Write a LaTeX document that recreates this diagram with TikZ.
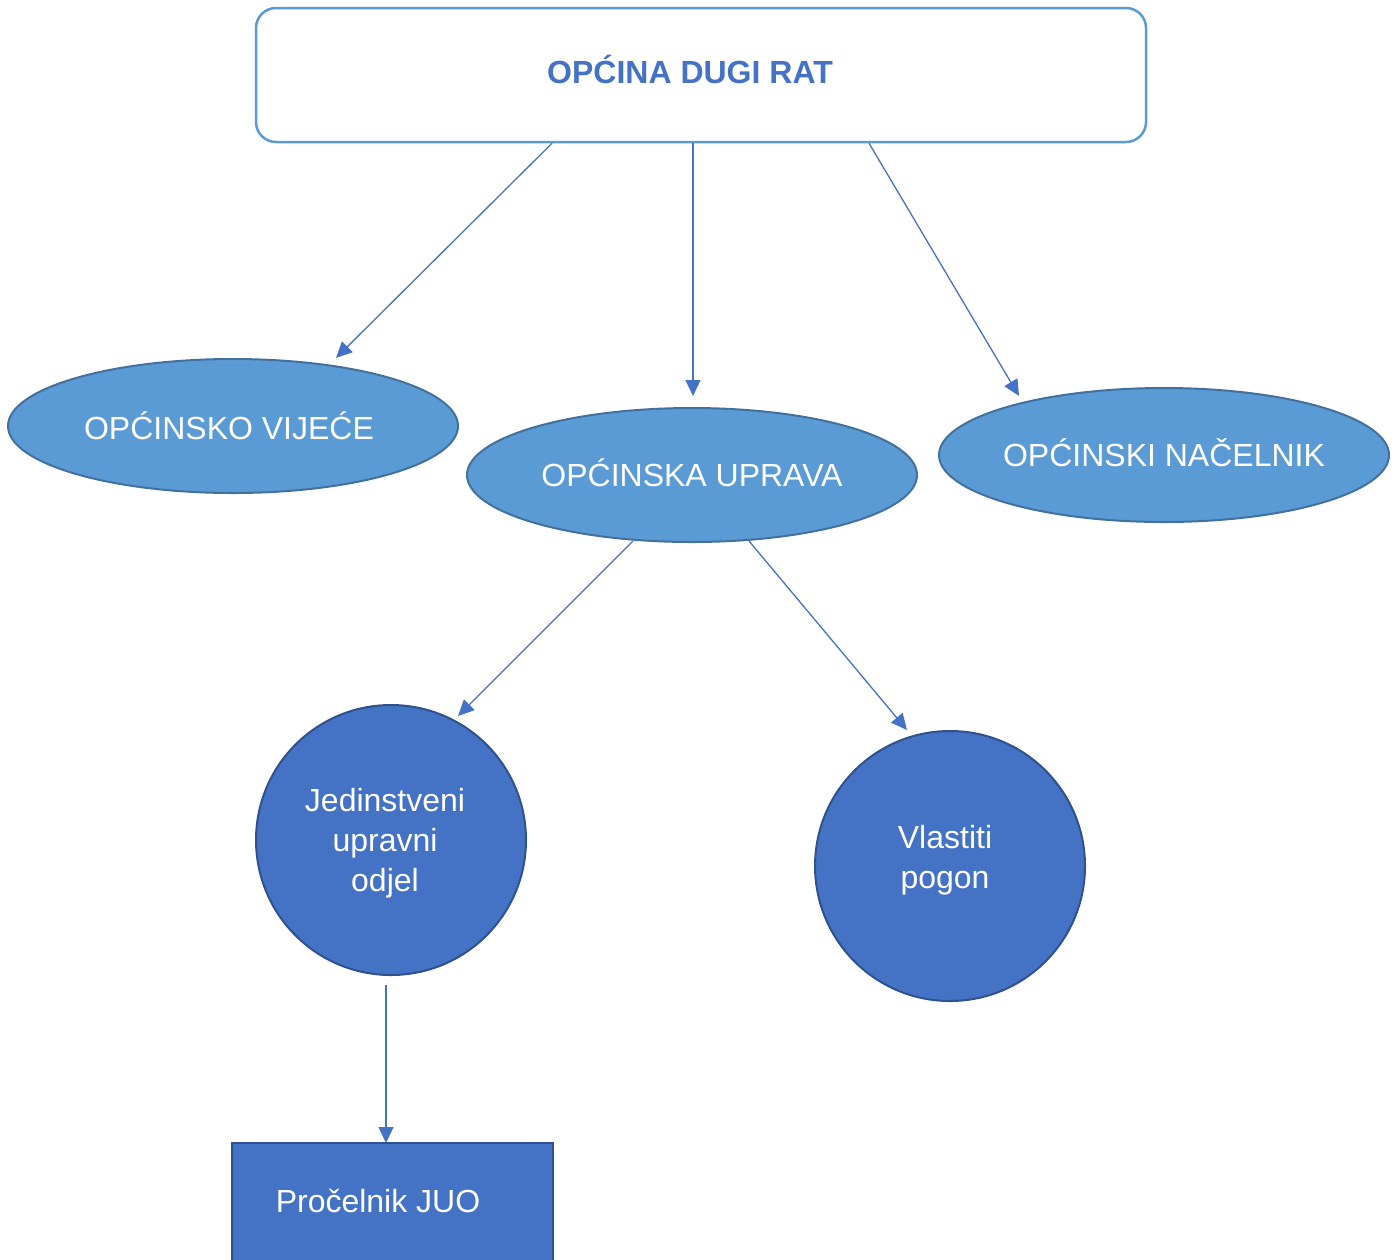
\documentclass[tikz,border=0pt]{standalone}
\usepackage{fontspec}
\setmainfont{Liberation Sans}
\usetikzlibrary{shapes.geometric,arrows.meta}
\definecolor{lightblue}{HTML}{5B9BD5}
\definecolor{lightborder}{HTML}{41719C}
\definecolor{darkblue}{HTML}{4472C4}
\definecolor{darkborder}{HTML}{2F528F}
\tikzset{
  px/.style={x=0.5pt,y=-0.5pt},
  txt/.style={font=\fontsize{16pt}{20pt}\selectfont, text=white, align=center},
  titletxt/.style={font=\fontsize{16pt}{20pt}\selectfont\bfseries, text=darkblue},
  topbox/.style={draw=lightblue, line width=1.25pt, rounded corners=10pt, fill=white,
    minimum width=445pt, minimum height=67pt, inner sep=0pt},
  oval/.style={ellipse, draw=lightborder, fill=lightblue, line width=1pt,
    minimum width=225pt, minimum height=67pt, inner sep=0pt, inner xsep=-20pt, txt},
  disc/.style={circle, draw=darkborder, fill=darkblue, line width=1pt,
    minimum size=135pt, inner sep=0pt, txt},
  headbox/.style={rectangle, draw=darkborder, fill=darkblue, line width=1pt,
    minimum width=160.5pt, minimum height=59.5pt, inner sep=0pt, txt},
  arr/.style={draw=darkblue, line width=0.65pt, -{Triangle[length=8pt,width=7.5pt]}}
}
\begin{document}
\begin{tikzpicture}[px]
\useasboundingbox (0,0) rectangle (1400,1259);
\clip (0,0) rectangle (1400,1259);
\node[topbox, label={[titletxt, xshift=-5.5pt, yshift=3pt]center:OPĆINA DUGI RAT}] (top) at (701,75) {};
\node[oval] (vijece) at (233,426) {OPĆINSKO VIJEĆE\hspace*{4pt}};
\node[oval] (uprava) at (692,475) {\raisebox{2pt}{OPĆINSKA UPRAVA}};
\node[oval] (nacelnik) at (1164,455) {\raisebox{2pt}{OPĆINSKI NAČELNIK}};
\node[disc, label={[txt, xshift=-3pt, yshift=-1.5pt]center:Jedinstveni\\upravni\\odjel}] (juo) at (391,840) {};
\node[disc, label={[txt, xshift=-2.5pt, yshift=3pt]center:Vlastiti\\pogon}] (pogon) at (950,866) {};
\node[headbox] (procelnik) at (392.5,1202.5) {\raisebox{2pt}{Pročelnik JUO}\hspace*{14.5pt}};
% arrow end points
\coordinate (e1) at (336,358);
\coordinate (e2) at (693,396);
\coordinate (e3) at (1019,396);
\coordinate (e4) at (458,716);
\coordinate (e5) at (907,730);
\coordinate (e6) at (386,1143);
\draw[arr] (top.south -| 552,0) -- (e1);
\draw[arr] (top.south -| 693,0) -- (e2);
\draw[arr] (top.south -| 869,0) -- (e3);
\draw[arr] (uprava.south -| 633,0) ++(0,-2) -- (e4);
\draw[arr] (uprava.south -| 749,0) ++(0,-2) -- (e5);
\draw[arr] (juo.south -| 386,0) ++(0,9) -- (e6);
\end{tikzpicture}
\end{document}
